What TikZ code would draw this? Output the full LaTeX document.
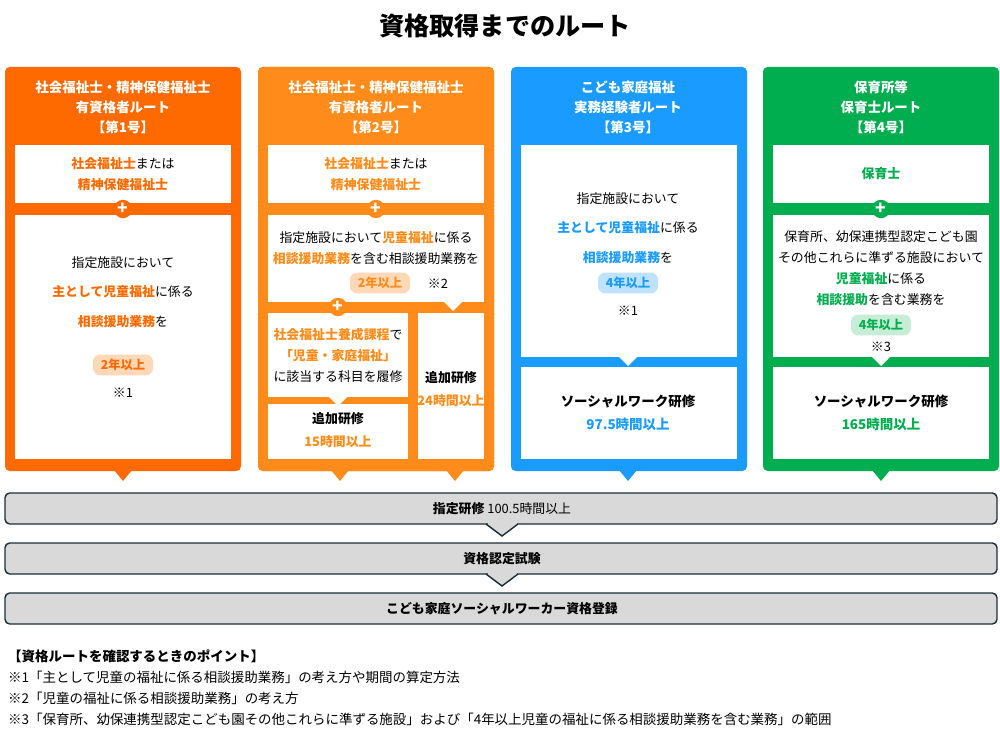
\documentclass[tikz,border=0pt]{standalone}
\usepackage{fontspec}
\setmainfont{Noto Sans CJK JP}
\definecolor{cA}{HTML}{FF6A00}
\definecolor{cB}{HTML}{FF8C1A}
\definecolor{cC}{HTML}{1A9BFF}
\definecolor{cD}{HTML}{00AD4F}
\definecolor{pA}{HTML}{FFD8B8}
\definecolor{pC}{HTML}{BFE2FF}
\definecolor{pD}{HTML}{C8EDD6}
\definecolor{bar}{HTML}{D9D9D9}
\definecolor{barline}{HTML}{1B2F3B}
\colorlet{cur}{cA}
\newcommand\hl[1]{{\color{cur}\bfseries #1}}
\begin{document}
\begin{tikzpicture}[x=0.03cm,y=-0.03cm,
  txt/.style={align=center,font=\fontsize{11}{18}\selectfont,inner sep=0},
  head/.style={align=center,text=white,font=\fontsize{11.5}{17}\selectfont\bfseries,inner sep=0},
  pill/.style={fill=#1,rounded corners=6pt,font=\fontsize{10.5}{12}\selectfont\bfseries,text=cur,minimum width=1.8cm,minimum height=0.62cm,inner sep=0},
  plus/.style={circle,fill=cur,text=white,minimum size=0.55cm,inner sep=0,font=\fontsize{15}{15}\selectfont\bfseries},
  barnode/.style={font=\fontsize{11}{12}\selectfont,inner sep=0},
  note/.style={anchor=west,font=\fontsize{11.5}{12}\selectfont,inner sep=0}]
\useasboundingbox (0,0) rectangle (1000,736);
\fill[white] (0,0) rectangle (1000,736);
\node[font=\fontsize{21.5}{24}\selectfont\bfseries] (title) at (505,26) {資格取得までのルート};
% columns
\foreach \x/\c/\tx in {5/cA/123,258/cB/340,258/cB/455,511/cC/628,763/cD/881}{
  \fill[\c,rounded corners=4pt] (\x,67) rectangle ++(236,404);
  \fill[\c] (\tx-9,470) -- (\tx+9,470) -- (\tx,481) -- cycle;
}
% ---- column 1
\colorlet{cur}{cA}
\node[head] (h1) at (123,107) {社会福祉士・精神保健福祉士\\有資格者ルート\\【第1号】};
\fill[white] (15,145) rectangle (231,203);
\fill[white] (15,215) rectangle (231,459);
\node[txt] (a1) at (123,174) {\hl{社会福祉士}または\\\hl{精神保健福祉士}};
\node[plus] (p1) at (123,209) {+};
\node[txt,font=\fontsize{11}{25}\selectfont] (a2) at (123,292) {指定施設において\\\hl{主として児童福祉}に係る\\\hl{相談援助業務}を};
\node[pill=pA] (y1) at (123,365) {2年以上};
\node[txt] (n1) at (123,393) {※1};
% ---- column 2
\colorlet{cur}{cB}
\node[head] (h2) at (376,107) {社会福祉士・精神保健福祉士\\有資格者ルート\\【第2号】};
\fill[white] (268,145) rectangle (484,203);
\fill[white] (268,215) rectangle (484,302);
\fill[white] (268,313) rectangle (408,397);
\fill[white] (268,404) rectangle (408,459);
\fill[white] (418,313) rectangle (484,459);
\fill[white] (444,302) -- (462,302) -- (453,311) -- cycle;
\fill[white] (329,397) -- (347,397) -- (338,406) -- cycle;
\node[txt] (b1) at (376,174) {\hl{社会福祉士}または\\\hl{精神保健福祉士}};
\node[plus] (p2) at (376,209) {+};
\node[txt] (b2) at (376,248) {指定施設において\hl{児童福祉}に係る\\\hl{相談援助業務}を含む相談援助業務を};
\node[pill=pA] (y2) at (380,283) {2年以上};
\node[txt] (n2) at (438,284) {※2};
\node[plus] (p3) at (338,307) {+};
\node[txt] (b3) at (338,355) {\hl{社会福祉士養成課程}で\\\hl{「児童・家庭福祉」}\\に該当する科目を履修};
\node[txt,font=\fontsize{11}{19}\selectfont\bfseries] (b4) at (338,430) {追加研修\\{\color{cur}15時間以上}};
\node[txt,font=\fontsize{11}{19}\selectfont\bfseries] (b5) at (451,389) {追加研修\\{\color{cur}24時間以上}};
% ---- column 3
\colorlet{cur}{cC}
\node[head] (h3) at (628,107) {こども家庭福祉\\実務経験者ルート\\【第3号】};
\fill[white] (521,145) rectangle (737,357);
\fill[white] (521,367) rectangle (737,459);
\fill[white] (619,357) -- (637,357) -- (628,366) -- cycle;
\node[txt,font=\fontsize{11}{25}\selectfont] (c1) at (628,228) {指定施設において\\\hl{主として児童福祉}に係る\\\hl{相談援助業務}を};
\node[pill=pC] (y3) at (628,283) {4年以上};
\node[txt] (n3) at (628,311) {※1};
\node[txt,font=\fontsize{11.5}{19}\selectfont\bfseries] (c2) at (628,413) {ソーシャルワーク研修\\{\color{cur}97.5時間以上}};
% ---- column 4
\colorlet{cur}{cD}
\node[head] (h4) at (881,107) {保育所等\\保育士ルート\\【第4号】};
\fill[white] (773,145) rectangle (989,203);
\fill[white] (773,215) rectangle (989,357);
\fill[white] (773,367) rectangle (989,459);
\fill[white] (872,357) -- (890,357) -- (881,366) -- cycle;
\node[txt] (d1) at (881,174) {\hl{保育士}};
\node[plus] (p4) at (881,209) {+};
\node[txt] (d2) at (881,268) {保育所、幼保連携型認定こども園\\その他これらに準ずる施設において\\\hl{児童福祉}に係る\\\hl{相談援助}を含む業務を};
\node[pill=pD] (y4) at (881,325) {4年以上};
\node[txt] (n4) at (881,347) {※3};
\node[txt,font=\fontsize{11.5}{19}\selectfont\bfseries] (d3) at (881,413) {ソーシャルワーク研修\\{\color{cur}165時間以上}};
% ---- bars
\foreach \y in {493,543,593}{
  \draw[barline,fill=bar,line width=1.2pt,rounded corners=4pt] (5,\y) rectangle (997,\y+31);
}
\foreach \y in {524,574}{
  \filldraw[fill=bar,draw=barline,line width=1.2pt] (486,\y) -- (502,\y+12) -- (518,\y);
  \fill[bar] (487.5,\y-1.5) rectangle (516.5,\y);
}
\node[barnode] (r1) at (502,509) {\textbf{指定研修} 100.5時間以上};
\node[barnode,font=\fontsize{11}{12}\selectfont\bfseries] (r2) at (502,559) {資格認定試験};
\node[barnode,font=\fontsize{11}{12}\selectfont\bfseries] (r3) at (502,609) {こども家庭ソーシャルワーカー資格登録};
% ---- notes
\node[note,font=\fontsize{11.5}{12}\selectfont\bfseries] (t0) at (8,656) {【資格ルートを確認するときのポイント】};
\node[note] (t1) at (8,677) {※1「主として児童の福祉に係る相談援助業務」の考え方や期間の算定方法};
\node[note] (t2) at (8,698) {※2「児童の福祉に係る相談援助業務」の考え方};
\node[note] (t3) at (8,719) {※3「保育所、幼保連携型認定こども園その他これらに準ずる施設」および「4年以上児童の福祉に係る相談援助業務を含む業務」の範囲};
\end{tikzpicture}
\end{document}
